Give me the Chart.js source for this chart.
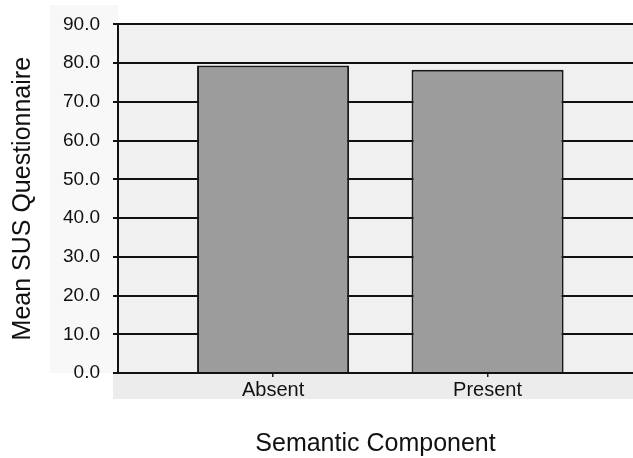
<!DOCTYPE html>
<html>
<head>
<meta charset="utf-8">
<script src="https://cdn.jsdelivr.net/npm/chart.js@4"></script>
<style>
  html, body { margin: 0; padding: 0; background: #ffffff; }
  #wrap { width: 633px; height: 458px; }
</style>
</head>
<body>
<div id="wrap"><canvas id="c" width="633" height="458"></canvas></div>
<script>
const categories = ['Absent', 'Present'];
const meanSUS = [79.4, 78.3];
const yTicks = [0, 10, 20, 30, 40, 50, 60, 70, 80, 90];
const xTitle = 'Semantic Component';
const yTitle = 'Mean SUS Questionnaire';

const bgPlugin = {
  id: 'bg',
  beforeDraw(chart) {
    const { ctx, chartArea: a } = chart;
    ctx.save();
    ctx.fillStyle = '#ffffff';
    ctx.fillRect(0, 0, chart.width, chart.height);
    ctx.fillStyle = '#f8f8f8';
    ctx.fillRect(50, 5, a.left - 50, a.bottom - 5);
    ctx.fillStyle = '#ececec';
    ctx.fillRect(a.left - 5, a.bottom, chart.width - a.left + 5, 26);
    ctx.fillStyle = '#f0f0f0';
    ctx.fillRect(a.left, a.top, a.right - a.left, a.bottom - a.top);
    ctx.restore();
  }
};

new Chart(document.getElementById('c'), {
  type: 'bar',
  data: {
    datasets: [{
      data: meanSUS.map((v, i) => ({ x: i + 1, y: v })),
      backgroundColor: '#9c9c9c',
      borderColor: '#1a1a1a',
      borderWidth: 2,
      categoryPercentage: 1,
      barPercentage: 0.709
    }]
  },
  options: {
    responsive: false,
    animation: false,
    devicePixelRatio: 1,
    layout: { padding: { top: 20, right: 0, left: 0, bottom: 0 } },
    plugins: { legend: { display: false }, tooltip: { enabled: false } },
    scales: {
      x: {
        type: 'linear',
        offset: false,
        min: 0.277,
        max: 2.678,
        afterBuildTicks: (s) => { s.ticks = categories.map((c, i) => ({ value: i + 1 })); },
        afterFit: (s) => { s.height = 85; },
        ticks: {
          callback: (v) => categories[v - 1] ?? '',
          color: '#111',
          font: { family: 'Liberation Sans', size: 20 },
          padding: 1,
          maxRotation: 0,
          autoSkip: false
        },
        grid: { offset: false, drawOnChartArea: false, drawTicks: true, tickLength: 4, color: '#222', lineWidth: 1.5 },
        border: { display: true, color: '#111', width: 2 },
        title: {
          display: true,
          text: xTitle,
          color: '#111',
          font: { family: 'Liberation Sans', size: 25, lineHeight: 1 },
          padding: { top: 0, bottom: 1 }
        }
      },
      y: {
        min: 0,
        max: 90,
        afterBuildTicks: (s) => { s.ticks = yTicks.map(v => ({ value: v })); },
        afterFit: (s) => { s.width = 118; },
        ticks: {
          callback: (v) => v.toFixed(1),
          color: '#111',
          font: { family: 'Liberation Sans', size: 19 },
          padding: 13
        },
        grid: { color: '#111', lineWidth: 2, tickLength: 5 },
        border: { display: true, color: '#111', width: 2 },
        title: {
          display: true,
          text: yTitle,
          color: '#111',
          font: { family: 'Liberation Sans', size: 25, lineHeight: 1 },
          padding: { top: 11, bottom: 0 }
        }
      }
    }
  },
  plugins: [bgPlugin]
});
</script>
</body>
</html>
